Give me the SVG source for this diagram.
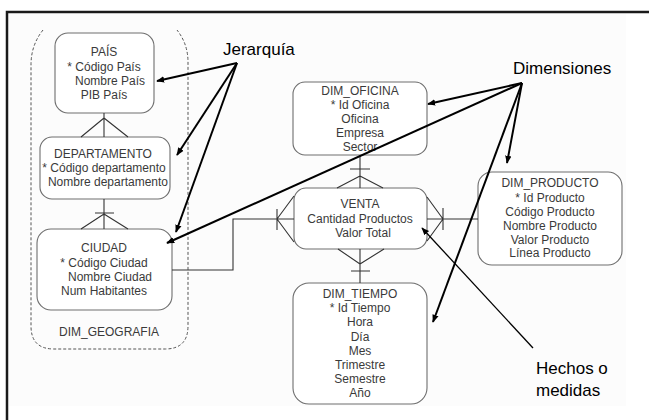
<svg xmlns="http://www.w3.org/2000/svg" width="649" height="420" viewBox="0 0 649 420">
  <defs>
    <marker id="arrow" viewBox="0 0 10 10" refX="9" refY="5" markerWidth="4" markerHeight="4" orient="auto" markerUnits="strokeWidth">
      <path d="M0,1 L10,5 L0,9 z" fill="#000"/>
    </marker>
    <marker id="arrowThin" viewBox="0 0 10 10" refX="9" refY="5" markerWidth="6" markerHeight="6" orient="auto" markerUnits="strokeWidth">
      <path d="M0,1 L10,5 L0,9 z" fill="#000"/>
    </marker>
    <style>
      .box { fill: #ffffff; stroke: #6e6e6e; stroke-width: 1.1; }
      .t { font-family: "Liberation Sans", Arial, sans-serif; font-size: 12px; fill: #3a3a3a; text-anchor: middle; }
      .label { font-family: "Liberation Sans", Arial, sans-serif; font-size: 17px; fill: #000000; }
      .rel { fill: none; stroke: #333333; stroke-width: 1.1; }
      .note { fill: none; stroke: #000000; stroke-width: 2; }
      .noteThin { fill: none; stroke: #000000; stroke-width: 1.3; }
    </style>
  </defs>

  <!-- page -->
  <rect x="0" y="0" width="649" height="420" fill="#ffffff"/>
  <rect x="9" y="14" width="617" height="392" fill="#fcfcfc"/>
  <path d="M7,420 L7,12 L649,12" fill="none" stroke="#1a1a1a" stroke-width="2.5"/>

  <!-- geography dimension group -->
  <g id="dim_geografia">
    <path d="M43,30 Q31,45 31,65 L31,326 Q31,349 54,349 L165,349 Q188,349 188,326 L188,62 Q188,44 177,30" fill="none" stroke="#555555" stroke-width="1" stroke-dasharray="3,2"/>
    <text class="t" x="109" y="336">DIM_GEOGRAFIA</text>
  </g>

  <g id="pais">
    <rect class="box" x="55" y="33" width="99" height="80" rx="13"/>
    <text class="t" x="104" y="56">PAÍS</text>
    <text class="t" x="104" y="71">* Código País</text>
    <text class="t" x="110" y="85">Nombre País</text>
    <text class="t" x="104" y="99">PIB País</text>
  </g>

  <g id="departamento">
    <rect class="box" x="40" y="137" width="130" height="62" rx="12"/>
    <text class="t" x="103" y="158">DEPARTAMENTO</text>
    <text class="t" x="104" y="172">* Código departamento</text>
    <text class="t" x="108" y="186">Nombre departamento</text>
  </g>

  <g id="ciudad">
    <rect class="box" x="37" y="229" width="135" height="81" rx="14"/>
    <text class="t" x="104" y="252">CIUDAD</text>
    <text class="t" x="104" y="267">* Código Ciudad</text>
    <text class="t" x="110" y="281">Nombre Ciudad</text>
    <text class="t" x="104" y="295">Num Habitantes</text>
  </g>

  <g id="dim_oficina">
    <rect class="box" x="293" y="82" width="134" height="73" rx="12"/>
    <text class="t" x="360" y="95">DIM_OFICINA</text>
    <text class="t" x="360" y="109">* Id Oficina</text>
    <text class="t" x="360" y="123">Oficina</text>
    <text class="t" x="360" y="137">Empresa</text>
    <text class="t" x="360" y="151">Sector</text>
  </g>

  <g id="venta">
    <rect class="box" x="294" y="188" width="133" height="61" rx="12"/>
    <text class="t" x="360" y="208">VENTA</text>
    <text class="t" x="360" y="223">Cantidad Productos</text>
    <text class="t" x="363" y="237">Valor Total</text>
  </g>

  <g id="dim_producto">
    <rect class="box" x="478" y="172" width="144" height="93" rx="14"/>
    <text class="t" x="550" y="187">DIM_PRODUCTO</text>
    <text class="t" x="550" y="202">* Id Producto</text>
    <text class="t" x="550" y="216">Código Producto</text>
    <text class="t" x="550" y="230">Nombre Producto</text>
    <text class="t" x="550" y="244">Valor Producto</text>
    <text class="t" x="550" y="257">Línea Producto</text>
  </g>

  <g id="dim_tiempo">
    <rect class="box" x="293" y="283" width="134" height="121" rx="16"/>
    <text class="t" x="360" y="298">DIM_TIEMPO</text>
    <text class="t" x="360" y="312">* Id Tiempo</text>
    <text class="t" x="360" y="326">Hora</text>
    <text class="t" x="360" y="341">Día</text>
    <text class="t" x="360" y="355">Mes</text>
    <text class="t" x="360" y="369">Trimestre</text>
    <text class="t" x="360" y="383">Semestre</text>
    <text class="t" x="360" y="397">Año</text>
  </g>

  <!-- relationships (crow's foot notation) -->
  <g id="connectors">
    <!-- PAÍS - DEPARTAMENTO -->
    <path class="rel" d="M104,113 L104,137 M104,118 L81,137 M104,118 L128,137"/>
    <!-- DEPARTAMENTO - CIUDAD -->
    <path class="rel" d="M104,199 L104,229 M95,213 L114,213 M104,214 L81,229 M104,214 L128,229"/>
    <!-- CIUDAD - VENTA -->
    <path class="rel" d="M172,270 L233,270 L233,219 L294,219 M277,209 L277,230 M277,219 L294,196 M277,219 L294,242"/>
    <!-- DIM_OFICINA - VENTA -->
    <path class="rel" d="M360,155 L360,188 M350,169 L370,169 M360,176 L337,188 M360,176 L383,188"/>
    <!-- VENTA - DIM_PRODUCTO -->
    <path class="rel" d="M427,219 L478,219 M443,208 L443,230 M443,219 L427,197 M443,219 L427,241"/>
    <!-- VENTA - DIM_TIEMPO -->
    <path class="rel" d="M360,249 L360,283 M351,271 L370,271 M360,264 L338,249 M360,264 L384,249"/>

    <!-- annotation arrows -->
    <path class="note" d="M237,63 L157,81" marker-end="url(#arrow)"/>
    <path class="note" d="M237,63 L177,155" marker-end="url(#arrow)"/>
    <path class="note" d="M237,63 L176,232" marker-end="url(#arrow)"/>

    <path class="note" d="M522,83 L428,104" marker-end="url(#arrow)"/>
    <path class="note" d="M522,83 L507,163" marker-end="url(#arrow)"/>
    <path class="note" d="M522,83 L167,243" marker-end="url(#arrow)"/>
    <path class="note" d="M522,83 L433,322" marker-end="url(#arrow)"/>

    <path class="noteThin" d="M533,348 L422,228" marker-end="url(#arrowThin)"/>
  </g>

  <!-- annotation labels -->
  <text class="label" x="223" y="55">Jerarquía</text>
  <text class="label" x="513" y="74">Dimensiones</text>
  <text class="label" x="536" y="374">Hechos o</text>
  <text class="label" x="536" y="396">medidas</text>
</svg>
